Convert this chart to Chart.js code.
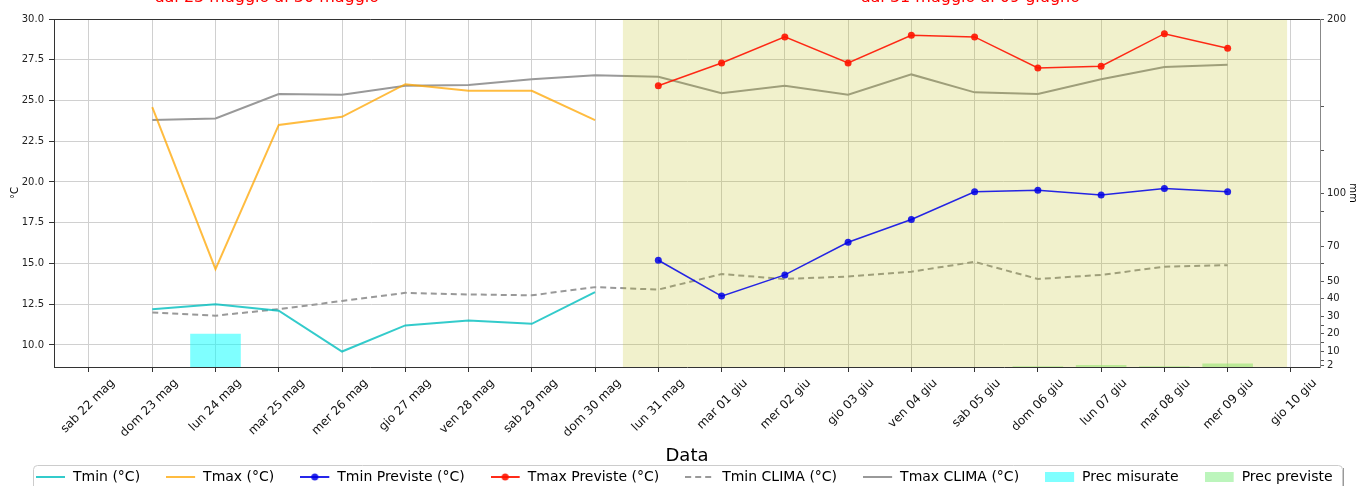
<!DOCTYPE html>
<html><head><meta charset="utf-8">
<script src="https://cdn.jsdelivr.net/npm/chart.js@4/dist/chart.umd.min.js"></script>
<style>
html,body{margin:0;padding:0;background:#fff;overflow:hidden;}
#wrap{position:absolute;left:0;top:0;width:1359px;height:494px;}
</style></head><body>
<div id="wrap"><canvas id="c"></canvas></div>
<script>
const N = null;
const categories = ['sab 22 mag','dom 23 mag','lun 24 mag','mar 25 mag','mer 26 mag','gio 27 mag','ven 28 mag','sab 29 mag','dom 30 mag','lun 31 mag','mar 01 giu','mer 02 giu','gio 03 giu','ven 04 giu','sab 05 giu','dom 06 giu','lun 07 giu','mar 08 giu','mer 09 giu','gio 10 giu'];
const tmin      = [N,12.2,12.5,12.1,9.6,11.2,11.5,11.3,13.25,N,N,N,N,N,N,N,N,N,N,N];
const tmax      = [N,24.6,14.65,23.5,24.0,26.0,25.6,25.6,23.8,N,N,N,N,N,N,N,N,N,N,N];
const tminPrev  = [N,N,N,N,N,N,N,N,N,15.2,13.0,14.3,16.3,17.7,19.4,19.5,19.2,19.6,19.4,N];
const tmaxPrev  = [N,N,N,N,N,N,N,N,N,25.9,27.3,28.9,27.3,29.0,28.9,27.0,27.1,29.1,28.2,N];
const tminClima = [N,12.0,11.8,12.2,12.7,13.2,13.1,13.05,13.55,13.4,14.35,14.05,14.2,14.5,15.1,14.05,14.3,14.8,14.9,N];
const tmaxClima = [N,23.8,23.9,25.4,25.35,25.9,25.95,26.3,26.55,26.45,25.45,25.9,25.35,26.6,25.5,25.4,26.3,27.05,27.2,N];
const precMis   = [N,N,20,N,N,N,N,N,N,N,N,N,N,N,N,N,N,N,N,N];
const precPrev  = [N,N,N,N,N,N,N,N,N,N,N,N,N,N,N,1.5,2.2,1.5,3.0,N];
const tempTicks = [10,12.5,15,17.5,20,22.5,25,27.5,30];
const mmTicks   = [2,10,20,30,40,50,70,100,200];
const mmMinor   = [5,15,25,60,90,125,150];
const periodTitles = ['dal 23 maggio al 30 maggio','dal 31 maggio al 09 giugno'];

Chart.defaults.font.family = 'DejaVu Sans';
Chart.defaults.color = '#222';

const pts = arr => arr.map((v,i)=>({x:i,y:v}));

function icon(fn){const c=document.createElement('canvas');c.width=30;c.height=14;fn(c.getContext('2d'));return c;}
function lineIcon(color,dash,dot){return icon(g=>{g.strokeStyle=color;g.lineWidth=2;g.setLineDash(dash||[]);g.beginPath();g.moveTo(0,7);g.lineTo(29,7);g.stroke();if(dot){g.fillStyle=color;g.beginPath();g.arc(14.5,7,3.5,0,Math.PI*2);g.fill();}});}
function rectIcon(color){return icon(g=>{g.fillStyle=color;g.fillRect(0,2,29,10);});}

const C = {
  tmin:'rgba(0,190,190,0.8)', tmax:'rgba(255,165,0,0.75)', tminP:'rgba(0,0,230,0.85)', tmaxP:'rgba(255,20,0,0.9)',
  clima:'#999999', mis:'rgba(0,255,255,0.5)', prev:'rgba(144,238,144,0.6)'
};

const datasets = [
  {label:'Tmin (°C)', data:pts(tmin), borderColor:C.tmin, borderWidth:2, pointRadius:0, order:3, icon:lineIcon(C.tmin)},
  {label:'Tmax (°C)', data:pts(tmax), borderColor:C.tmax, borderWidth:2, pointRadius:0, order:2, icon:lineIcon(C.tmax)},
  {label:'Tmin Previste (°C)', data:pts(tminPrev), borderColor:C.tminP, backgroundColor:C.tminP, borderWidth:1.5, pointRadius:3.5, pointBorderWidth:0, order:1, afterSpan:true, icon:lineIcon(C.tminP,null,true)},
  {label:'Tmax Previste (°C)', data:pts(tmaxPrev), borderColor:C.tmaxP, backgroundColor:C.tmaxP, borderWidth:1.5, pointRadius:3.5, pointBorderWidth:0, order:0, afterSpan:true, icon:lineIcon(C.tmaxP,null,true)},
  {label:'Tmin CLIMA (°C)', data:pts(tminClima), borderColor:C.clima, borderWidth:2, borderDash:[6,4], pointRadius:0, order:6, icon:lineIcon(C.clima,[6,4])},
  {label:'Tmax CLIMA (°C)', data:pts(tmaxClima), borderColor:C.clima, borderWidth:2, pointRadius:0, order:7, icon:lineIcon(C.clima)},
  {type:'bar', label:'Prec misurate', data:pts(precMis), backgroundColor:C.mis, yAxisID:'y1', grouped:false, categoryPercentage:0.8, barPercentage:1.0, order:5, icon:rectIcon(C.mis)},
  {type:'bar', label:'Prec previste', data:pts(precPrev), backgroundColor:C.prev, yAxisID:'y1', grouped:false, categoryPercentage:0.8, barPercentage:1.0, order:4, icon:rectIcon(C.prev)}
];

const SPAN = [8.44, 18.94];
const TITLE_X = [2.81, 13.93];

function drawSpan(chart){
  const {ctx, chartArea:a, scales:{x}} = chart;
  const x0 = x.getPixelForValue(SPAN[0]), x1 = x.getPixelForValue(SPAN[1]);
  ctx.save();
  ctx.fillStyle = 'rgba(185,185,0,0.2)';
  ctx.fillRect(x0, a.top, x1-x0, a.bottom-a.top);
  ctx.restore();
}

const decor = {
  id:'decor',
  beforeDatasetsDraw(chart){ chart.$spanDone = false; },
  beforeDatasetDraw(chart,args){
    const ds = chart.data.datasets[args.index];
    if (ds.afterSpan && !chart.$spanDone){ drawSpan(chart); chart.$spanDone = true; }
  },
  afterDraw(chart){
    const {ctx, chartArea:a, scales:{x}} = chart;
    ctx.save();
    ctx.strokeStyle = '#333'; ctx.lineWidth = 1;
    ctx.beginPath(); ctx.moveTo(a.left, a.top+0.5); ctx.lineTo(a.right, a.top+0.5); ctx.stroke();
    ctx.fillStyle = 'red'; ctx.font = '16px "DejaVu Sans"'; ctx.textAlign = 'center'; ctx.textBaseline = 'alphabetic';
    periodTitles.forEach((t,i)=>ctx.fillText(t, x.getPixelForValue(TITLE_X[i]), 2));
    ctx.strokeStyle = '#cccccc'; ctx.lineWidth = 1;
    ctx.beginPath();
    if (ctx.roundRect) ctx.roundRect(33.5, 465.5, 1309, 60, 4); else ctx.rect(33.5,465.5,1309,60);
    ctx.stroke();
    ctx.strokeStyle = '#999'; ctx.beginPath(); ctx.moveTo(1343.5, 468); ctx.lineTo(1343.5, 494); ctx.stroke();
    ctx.restore();
  }
};

new Chart(document.getElementById('c'), {
  type:'line',
  data:{datasets},
  options:{
    responsive:true, maintainAspectRatio:false, animation:false,
    layout:{padding:{top:19,left:10,right:0,bottom:0}},
    elements:{line:{tension:0}},
    plugins:{
      tooltip:{enabled:false},
      legend:{
        position:'bottom', align:'start',
        labels:{
          font:{size:14}, color:'#000', padding:26, usePointStyle:true, pointStyleWidth:30, boxHeight:14,
          generateLabels:(chart)=>chart.data.datasets.map((d,i)=>({text:d.label, pointStyle:d.icon, fillStyle:'#000', strokeStyle:'#000', lineWidth:0, hidden:false, datasetIndex:i, fontColor:'#000'}))
        }
      }
    },
    scales:{
      x:{
        type:'linear', min:-0.553, max:19.46, offset:false,
        afterBuildTicks:s=>{s.ticks = categories.map((c,i)=>({value:i}));},
        afterFit:s=>{s.height = 77;},
        ticks:{callback:v=>categories[v] ?? '', autoSkip:false, minRotation:45, maxRotation:45, font:{size:12}, padding:4, labelOffset:24, color:'#111'},
        grid:{offset:false, color:'#d0d0d0', lineWidth:1, tickColor:'#333', tickLength:5},
        border:{color:'#333', width:1},
        title:{display:true, text:'Data', font:{size:18}, color:'#000', padding:{top:0,bottom:-22.8}}
      },
      y:{
        position:'left', min:8.65, max:30,
        afterBuildTicks:s=>{s.ticks = tempTicks.map(v=>({value:v}));},
        afterFit:s=>{s.width = 44;},
        ticks:{callback:v=>Number(v).toFixed(1), font:{size:10}, padding:5, color:'#222'},
        grid:{color:'#d0d0d0', lineWidth:1, tickColor:'#333', tickLength:5},
        border:{color:'#333', width:1},
        title:{display:true, text:'°C', font:{size:10}, color:'#000', padding:{top:-1,bottom:0}}
      },
      y1:{
        position:'right', min:1, max:200,
        afterBuildTicks:s=>{s.ticks = mmTicks.concat(mmMinor).sort((a,b)=>a-b).map(v=>({value:v}));},
        afterFit:s=>{s.width = 39;},
        ticks:{callback:v=>mmTicks.includes(v)?String(v):'', font:{size:10}, padding:3, color:'#222', autoSkip:false},
        grid:{drawOnChartArea:false, tickColor:'#555', tickLength:4},
        border:{color:'#888', width:1},
        title:{display:true, text:'mm', font:{size:10}, color:'#000', padding:{top:0,bottom:0}}
      }
    }
  },
  plugins:[decor]
});
</script>
</body></html>
